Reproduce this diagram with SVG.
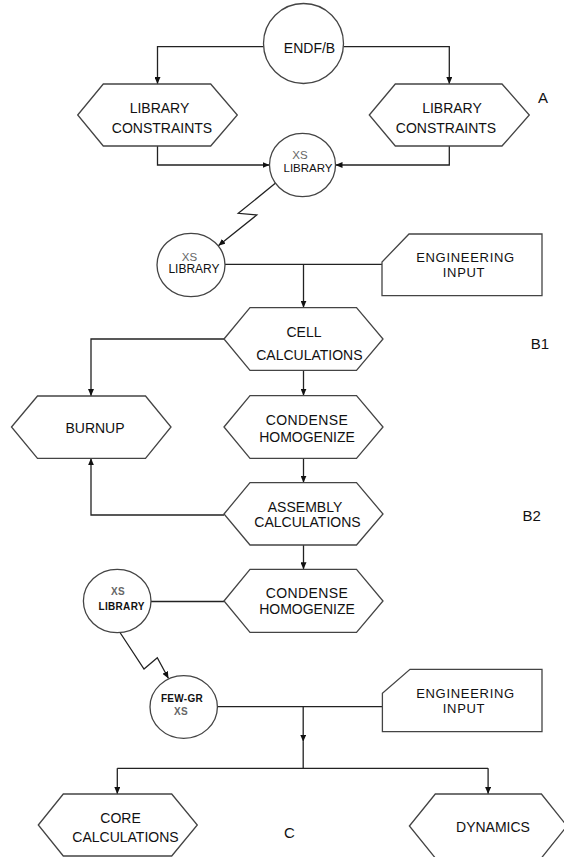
<svg xmlns="http://www.w3.org/2000/svg" width="564" height="857" viewBox="0 0 564 857">
<style>
.sh{fill:#fff;stroke:#444;stroke-width:1.3}
.cn{fill:none;stroke:#222;stroke-width:1.3}
text{font-family:"Liberation Sans",Arial,sans-serif;fill:#111;text-anchor:middle}
.t{font-size:14px}
.e{font-size:13px;letter-spacing:0.7px}
.s{font-size:11.5px}
.xs{font-size:11.5px;fill:#666}
.b{font-size:10px;font-weight:bold;letter-spacing:0.3px}
.lab{font-size:15px}
</style>
<defs>
<marker id="ar" markerUnits="userSpaceOnUse" markerWidth="7" markerHeight="6" refX="7" refY="3" orient="auto">
<path d="M0,0 L7,3 L0,6 z" fill="#111"/>
</marker>
</defs>
<rect width="564" height="857" fill="#fff"/>
<g id="connectors">
<path class="cn" d="M263.5,46.7 H157.5 V84" marker-end="url(#ar)"/>
<path class="cn" d="M343.5,46.7 H449.3 V84" marker-end="url(#ar)"/>
<path class="cn" d="M157.5,146 V165 H269.5" marker-end="url(#ar)"/>
<path class="cn" d="M449.3,146 V165 H335.5" marker-end="url(#ar)"/>
<path class="cn" d="M275.6,183.1 L238.3,213.3 L256.7,215 L218.3,245.7" marker-end="url(#ar)"/>
<path class="cn" d="M225,264.3 H382"/>
<path class="cn" d="M303.5,264.3 V307.7" marker-end="url(#ar)"/>
<path class="cn" d="M224,339 H91 V396" marker-end="url(#ar)"/>
<path class="cn" d="M303.5,370.3 V395.7" marker-end="url(#ar)"/>
<path class="cn" d="M303.5,458.3 V482.7" marker-end="url(#ar)"/>
<path class="cn" d="M224,515 H91 V458.3" marker-end="url(#ar)"/>
<path class="cn" d="M303.5,545 V569.3" marker-end="url(#ar)"/>
<path class="cn" d="M151,601.5 H224"/>
<path class="cn" d="M120,632.5 L144,669 L157.3,657.7 L168.5,678.5" marker-end="url(#ar)"/>
<path class="cn" d="M217.3,706.7 H382.4"/>
<path class="cn" d="M303.2,706.7 V741.7" marker-end="url(#ar)"/>
<path class="cn" d="M303.2,741.7 V768.3"/>
<path class="cn" d="M117.3,768.3 H488.1"/>
<path class="cn" d="M117.3,768.3 V794" marker-end="url(#ar)"/>
<path class="cn" d="M488.1,768.3 V794" marker-end="url(#ar)"/>
</g>
<g id="endfb">
<circle class="sh" cx="303.5" cy="43.5" r="40"/>
<text class="t" x="309.5" y="53.3">ENDF/B</text>
</g>
<g id="libconst-left">
<polygon class="sh" points="77.7,115 103.3,84 210.7,84 237.3,115 210.7,146 103.3,146"/>
<text class="t" x="159.5" y="113.3">LIBRARY</text>
<text class="t" x="162" y="133.3">CONSTRAINTS</text>
</g>
<g id="libconst-right">
<polygon class="sh" points="369.3,115 395.3,84 502,84 529.3,115 502,146 395.3,146"/>
<text class="t" x="452" y="113.3">LIBRARY</text>
<text class="t" x="446" y="133.3">CONSTRAINTS</text>
</g>
<g id="xslib1">
<ellipse class="sh" cx="302.5" cy="165" rx="33" ry="31.7"/>
<text class="xs" x="300" y="159.3">XS</text>
<text class="s" x="308" y="171.7">LIBRARY</text>
</g>
<g id="xslib2">
<ellipse class="sh" cx="191" cy="265" rx="34" ry="31.7"/>
<text class="xs" x="189.5" y="260.7">XS</text>
<text class="s" x="194" y="273.3" style="font-size:12px">LIBRARY</text>
</g>
<g id="enginput1">
<polygon class="sh" points="409,234 542,234 542,295.7 382,295.7 382,262"/>
<text class="e" x="465.5" y="262">ENGINEERING</text>
<text class="e" x="464" y="277">INPUT</text>
</g>
<g id="cell">
<polygon class="sh" points="224,339 250,307.7 356.5,307.7 383,339 356.5,370.3 250,370.3"/>
<text class="t" x="304" y="336.7">CELL</text>
<text class="t" x="309.4" y="360">CALCULATIONS</text>
</g>
<g id="burnup">
<polygon class="sh" points="11.5,427 37.5,396 145.5,396 171,427 145.5,458.3 37.5,458.3"/>
<text class="t" x="95" y="433.3">BURNUP</text>
</g>
<g id="condense1">
<polygon class="sh" points="224,427 250,395.7 356.5,395.7 383,427 356.5,458.3 250,458.3"/>
<text class="t" x="307" y="425" letter-spacing="0.4">CONDENSE</text>
<text class="t" x="307" y="441.7">HOMOGENIZE</text>
</g>
<g id="assembly">
<polygon class="sh" points="224,514 250,482.7 356.5,482.7 383,514 356.5,545 250,545"/>
<text class="t" x="305" y="511.7">ASSEMBLY</text>
<text class="t" x="307.5" y="527">CALCULATIONS</text>
</g>
<g id="condense2">
<polygon class="sh" points="224,601 250,569.3 356.5,569.3 383,601 356.5,632.3 250,632.3"/>
<text class="t" x="307" y="598.3" letter-spacing="0.4">CONDENSE</text>
<text class="t" x="307" y="614.3">HOMOGENIZE</text>
</g>
<g id="xslib3">
<ellipse class="sh" cx="117.2" cy="601" rx="33.8" ry="31.7"/>
<text class="b" x="118" y="595" style="fill:#666">XS</text>
<text class="b" x="121.7" y="610">LIBRARY</text>
</g>
<g id="fewgr">
<ellipse class="sh" cx="183.7" cy="707" rx="33.7" ry="31.3"/>
<text class="b" x="182" y="701.7">FEW-GR</text>
<text class="b" x="181" y="715" style="fill:#666">XS</text>
</g>
<g id="enginput2">
<polygon class="sh" points="410,669.3 542,669.3 542,731.7 382.4,731.7 382.4,693.3"/>
<text class="e" x="465.5" y="698">ENGINEERING</text>
<text class="e" x="464" y="713">INPUT</text>
</g>
<g id="core">
<polygon class="sh" points="38.3,825 63.3,794 171.7,794 197.3,825 171.7,856 63.3,856"/>
<text class="t" x="120.5" y="823.3">CORE</text>
<text class="t" x="125.5" y="842.3">CALCULATIONS</text>
</g>
<g id="dynamics">
<polygon class="sh" points="409.4,826 435.3,794 541.4,794 567,826 541.4,858 435.3,858"/>
<text class="t" x="493" y="831.7">DYNAMICS</text>
</g>
<g id="labels">
<text class="lab" x="543" y="103.3">A</text>
<text class="lab" x="540" y="349">B1</text>
<text class="lab" x="531.7" y="520.7">B2</text>
<text class="lab" x="289.5" y="838.3">C</text>
</g>
</svg>
